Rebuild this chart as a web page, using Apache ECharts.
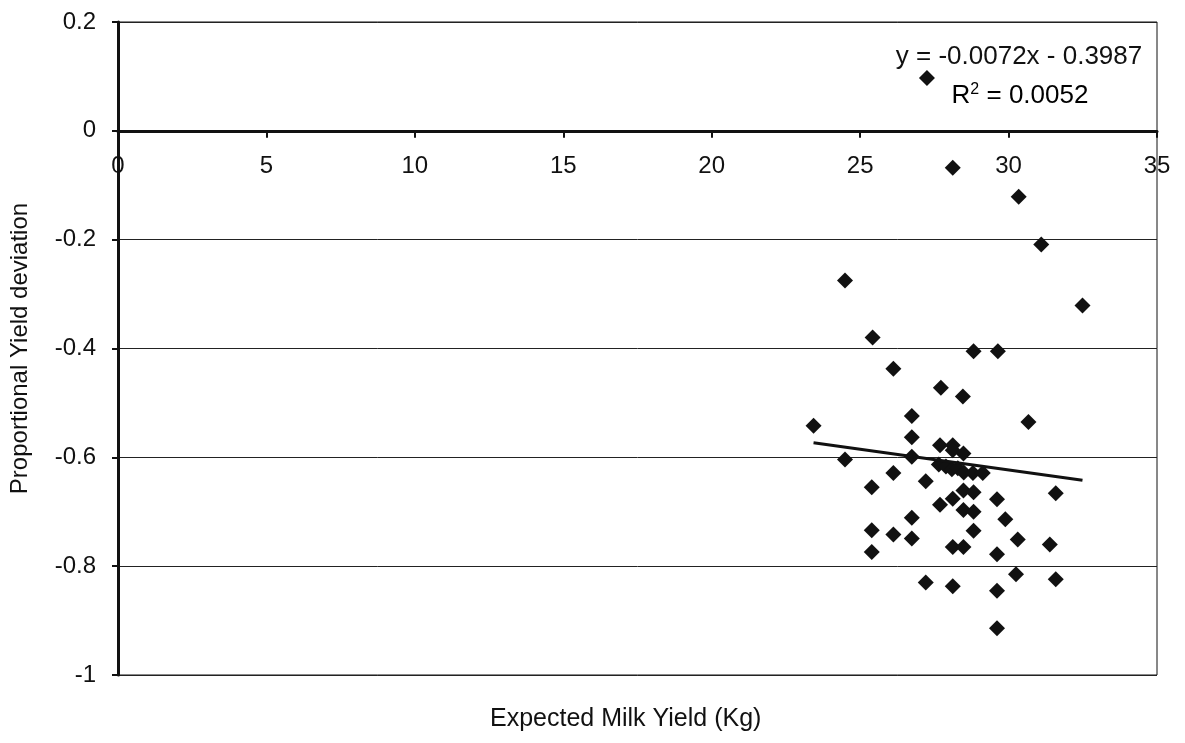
<!DOCTYPE html>
<html>
<head>
<meta charset="utf-8">
<script src="https://cdn.jsdelivr.net/npm/echarts@6/dist/echarts.min.js"></script>
<style>
html,body{margin:0;padding:0;background:#fff;}
#chart{width:1185px;height:743px;}
</style>
</head>
<body>
<div id="chart"></div>
<script>
// Expected milk yield (kg) and proportional yield deviation
const milkYield = [27.25,28.12,30.34,31.10,24.49,32.49,25.42,28.82,29.64,26.12,27.72,28.46,26.74,23.43,30.67,26.74,27.69,28.12,28.12,28.48,24.49,26.74,27.65,27.89,28.09,28.29,28.49,28.80,29.13,26.12,27.21,25.39,28.48,28.82,31.59,28.12,29.61,27.69,28.48,28.82,26.74,29.89,25.39,26.12,26.74,28.82,30.31,31.39,25.39,28.12,28.48,29.61,30.25,31.59,27.21,28.12,29.61,29.61];
const deviation = [0.097,-0.068,-0.121,-0.209,-0.275,-0.321,-0.380,-0.405,-0.405,-0.437,-0.472,-0.488,-0.524,-0.542,-0.535,-0.563,-0.578,-0.578,-0.587,-0.593,-0.604,-0.599,-0.613,-0.617,-0.622,-0.620,-0.628,-0.629,-0.629,-0.629,-0.644,-0.655,-0.661,-0.664,-0.666,-0.676,-0.677,-0.687,-0.697,-0.700,-0.711,-0.714,-0.734,-0.742,-0.749,-0.735,-0.751,-0.760,-0.774,-0.765,-0.765,-0.778,-0.815,-0.824,-0.830,-0.837,-0.845,-0.914];
// Linear trend line end points
const trendX = [23.43, 32.49];
const trendY = [-0.573, -0.642];
const xTicks = {min:0, max:35, interval:5};
const yTicks = {min:-1, max:0.2, interval:0.2};
const equationText = 'y = -0.0072x - 0.3987';
const r2Value = '0.0052';
const xName = 'Expected Milk Yield (Kg)';
const yName = 'Proportional Yield deviation';

const FONT = 'Liberation Sans, Arial, sans-serif';
const W = 1185, H = 743;
const G = {left:117, right:28, top:22, bottom:68};
const plotH = H - G.top - G.bottom;
// distance from the bottom of the plot to the y = 0 line
const zeroOffset = plotH * (0 - yTicks.min) / (yTicks.max - yTicks.min);

const chart = echarts.init(document.getElementById('chart'), null, {renderer:'canvas'});
const points = milkYield.map((x,i)=>[x, deviation[i]]);
const trend = trendX.map((x,i)=>[x, trendY[i]]);

chart.setOption({
  animation:false,
  backgroundColor:'#fff',
  grid:Object.assign({show:true, borderColor:'#111', borderWidth:1, backgroundColor:'transparent'}, G),
  xAxis:{
    type:'value', min:xTicks.min, max:xTicks.max, interval:xTicks.interval,
    position:'bottom', offset:-zeroOffset,
    axisLine:{onZero:false, lineStyle:{color:'#111', width:3}},
    axisTick:{show:true, inside:false, length:7, lineStyle:{color:'#111', width:2}},
    axisLabel:{color:'#111', fontSize:24, fontFamily:FONT, margin:24, showMinLabel:true, showMaxLabel:true},
    splitLine:{show:false}
  },
  yAxis:{
    type:'value', min:yTicks.min, max:yTicks.max, interval:yTicks.interval,
    name:yName, nameLocation:'middle', nameGap:86,
    nameTextStyle:{color:'#111', fontSize:24, fontFamily:FONT},
    axisLine:{show:true, lineStyle:{color:'#111', width:3}},
    axisTick:{show:true, length:6, lineStyle:{color:'#111', width:2}},
    axisLabel:{color:'#111', fontSize:24, fontFamily:FONT, margin:22},
    splitLine:{show:true, lineStyle:{color:'#222', width:1}}
  },
  graphic:[
    {type:'text', left:490, top:707, style:{text:xName, fill:'#111', font:'25px '+FONT}},
    {type:'text', x:1019, y:57, style:{text:equationText, fill:'#111', font:'26px '+FONT, textAlign:'center', textVerticalAlign:'middle'}},
    {type:'text', x:1020, y:96, style:{
      text:'{b|R}{s|2}{b| = '+r2Value+'}', textAlign:'center', textVerticalAlign:'middle',
      rich:{b:{fontSize:26, fontFamily:FONT, color:'#111'}, s:{fontSize:16, fontFamily:FONT, color:'#111', verticalAlign:'top', padding:[0,0,12,0]}}
    }}
  ],
  series:[
    {type:'scatter', data:points, symbol:'diamond', symbolSize:[16,16], itemStyle:{color:'#111', opacity:1}, z:3},
    {type:'line', data:trend, symbol:'none', lineStyle:{color:'#111', width:3}, z:4}
  ]
});
</script>
</body>
</html>
